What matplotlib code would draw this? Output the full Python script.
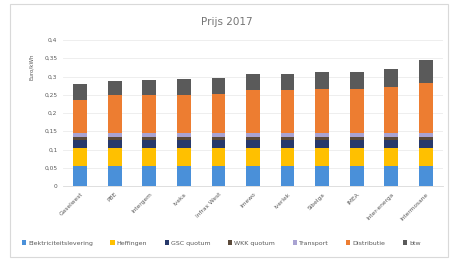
import matplotlib
matplotlib.use("Agg")
import matplotlib.pyplot as plt
from matplotlib.patches import Rectangle
import numpy as np

# netbeheerders, goedkoopste eerst
categories = ["Gaselwest", "PBE", "Intergem", "Iveka", "Infrax West", "Imewo",
              "Iverlek", "Sibelga", "IMEA", "Inter-energa", "Intermosane"]

series_names = ["Elektriciteitslevering", "Heffingen", "GSC quotum", "WKK quotum",
                "Transport", "Distributie", "btw"]
levering = [0.055] * 11
heffingen = [0.049] * 11
gsc = [0.022] * 11
wkk = [0.008] * 11
transport = [0.010] * 11
distributie = [0.092, 0.105, 0.105, 0.105, 0.108, 0.119, 0.119, 0.122, 0.122, 0.127, 0.138]
btw = [0.043, 0.039, 0.041, 0.044, 0.044, 0.044, 0.044, 0.046, 0.046, 0.050, 0.063]

yticks = [0, 0.05, 0.1, 0.15, 0.2, 0.25, 0.3, 0.35, 0.4]
ytick_labels = ["0", "0,05", "0,1", "0,15", "0,2", "0,25", "0,3", "0,35", "0,4"]

colors = ["#4a90d9", "#ffc000", "#27396b", "#5b4a3a", "#a9a3d2", "#ed7d31", "#5a5a5a"]
txt = "#595959"

fig = plt.figure(figsize=(4.54, 2.59), dpi=100)
# kader rond de grafiek
fig.patches.append(Rectangle((10 / 454, 2 / 259), 438 / 454, 253 / 259,
                             transform=fig.transFigure, fill=False,
                             edgecolor="#d9d9d9", linewidth=0.8))

ax = fig.add_axes([63 / 454, 1 - 186 / 259, 380 / 454, 146 / 259])
x = np.arange(len(categories))
bottom = np.zeros(len(categories))
data = [levering, heffingen, gsc, wkk, transport, distributie, btw]
for name, vals, c in zip(series_names, data, colors):
    ax.bar(x, vals, 0.4, bottom=bottom, color=c, label=name, zorder=3)
    bottom += np.array(vals)

ax.set_xlim(-0.5, len(categories) - 0.5)
ax.set_ylim(0, 0.4)
ax.set_yticks(yticks)
ax.set_yticklabels(ytick_labels)
ax.grid(axis="y", color="#ebebeb", linewidth=0.6, zorder=0)
for s in ["top", "right", "left"]:
    ax.spines[s].set_visible(False)
ax.spines["bottom"].set_color("#d9d9d9")
ax.spines["bottom"].set_linewidth(0.6)
ax.tick_params(length=0, labelsize=4.2, colors=txt, pad=4)
ax.set_xticks(x)
ax.set_xticklabels(categories, rotation=45, ha="right", rotation_mode="anchor")
ax.set_ylabel("Euro/kWh", fontsize=4, color=txt, labelpad=6)
ax.yaxis.set_label_coords(-0.075, 0.82)

fig.text(0.5, 1 - 22 / 259, "Prijs 2017", ha="center", va="center",
         fontsize=7.5, color="#757575")

leg = fig.legend(loc="center", bbox_to_anchor=(0.487, 1 - 243 / 259), ncol=7,
                 fontsize=4.5, frameon=False, handlelength=0.7, handleheight=0.7,
                 handletextpad=0.3, columnspacing=2.8)
for t in leg.get_texts():
    t.set_color(txt)

fig.savefig("out.png", dpi=100)
